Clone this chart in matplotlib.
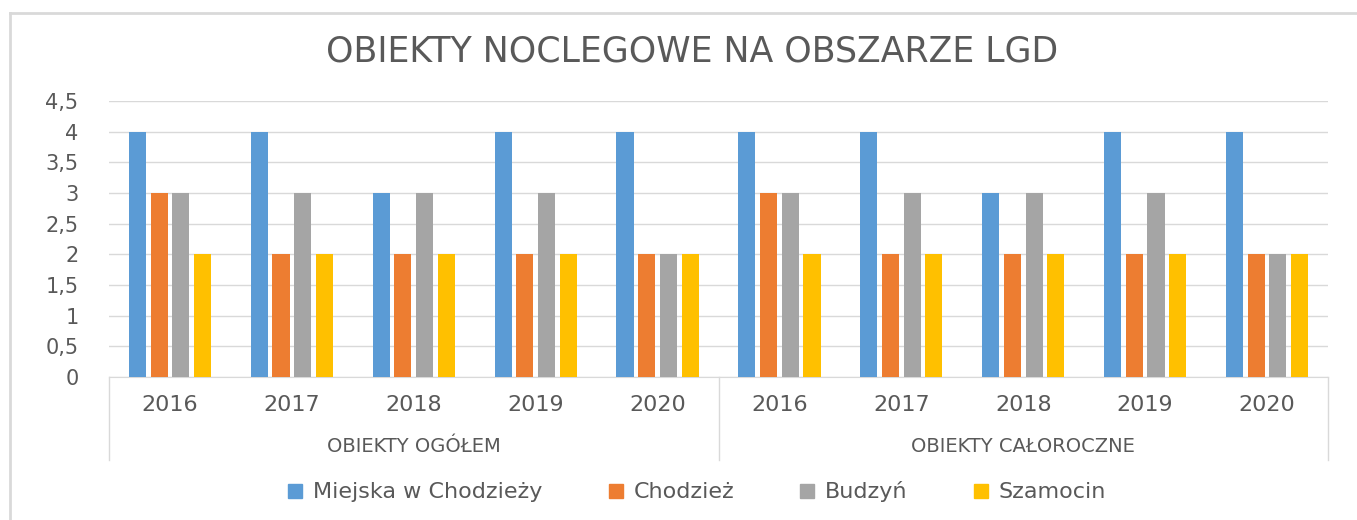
#!/usr/bin/env python3

"""
Obiekty noclegowe na obszarze LGD - grouped bar chart
"""

import matplotlib
matplotlib.use("Agg")
import matplotlib.pyplot as plt
from matplotlib.lines import Line2D
import numpy as np

# =======================
# Data
# =======================
years = ["2016", "2017", "2018", "2019", "2020"]
groups = ["OBIEKTY OGÓŁEM", "OBIEKTY CAŁOROCZNE"]
series = ["Miejska w Chodzieży", "Chodzież", "Budzyń", "Szamocin"]

miejska = [4, 4, 3, 4, 4, 4, 4, 3, 4, 4]
chodziez = [3, 2, 2, 2, 2, 3, 2, 2, 2, 2]
budzyn = [3, 3, 3, 3, 2, 3, 3, 3, 3, 2]
szamocin = [2, 2, 2, 2, 2, 2, 2, 2, 2, 2]

yticks = [0, 0.5, 1, 1.5, 2, 2.5, 3, 3.5, 4, 4.5]
ytick_labels = ["0", "0,5", "1", "1,5", "2", "2,5", "3", "3,5", "4", "4,5"]

# =======================
# Style
# =======================
colors = ["#5B9BD5", "#ED7D31", "#A5A5A5", "#FFC000"]
text_color = "#595959"
grid_color = "#D9D9D9"
plt.rcParams["font.family"] = ["DejaVu Sans"]

W, H = 1357, 520
fig = plt.figure(figsize=(W / 100, H / 100), dpi=100)

# outer chart frame (top and left edges only, rest is cut off)
fx, fy = 10 / W, 1 - 13 / H
fig.add_artist(Line2D([fx, 1.0], [fy, fy], transform=fig.transFigure,
                      color="#D9D9D9", linewidth=2))
fig.add_artist(Line2D([fx, fx], [0.0, fy], transform=fig.transFigure,
                      color="#D9D9D9", linewidth=2))

ax = fig.add_axes([109 / W, 1 - 377 / H, (1328 - 109) / W, (377 - 101) / H])

# =======================
# Bars
# =======================
x = np.arange(len(miejska))
step = 0.178
width = 0.14
for i, (vals, col) in enumerate(zip([miejska, chodziez, budzyn, szamocin], colors)):
    ax.bar(x + (i - 1.5) * step, vals, width=width, color=col,
           label=series[i], zorder=3)

ax.set_xlim(-0.5, len(miejska) - 0.5)
ax.set_ylim(0, 4.5)
ax.set_yticks(yticks)
ax.set_yticklabels(ytick_labels, fontsize=15, color=text_color)
ax.tick_params(axis="y", length=0, pad=22)
ax.set_xticks([])
ax.grid(axis="y", color=grid_color, linewidth=1, zorder=0)
for s in ["top", "right", "left"]:
    ax.spines[s].set_visible(False)
ax.spines["bottom"].set_color(grid_color)

# =======================
# Multi-level category axis
# =======================
trans = ax.get_xaxis_transform()
for i in x:
    ax.text(i, -0.102, years[i % 5], transform=trans, ha="center", va="center",
            fontsize=16, color=text_color)
for g, name in enumerate(groups):
    ax.text(g * 5 + 2, -0.25, name, transform=trans, ha="center", va="center",
            fontsize=14, color=text_color)
for xb in [-0.5, 4.5, 9.5]:
    ax.add_line(Line2D([xb, xb], [0, -0.30], transform=trans, color=grid_color,
                       linewidth=1, clip_on=False))

# =======================
# Title and legend
# =======================
fig.text(0.51, 1 - 52 / H, "OBIEKTY NOCLEGOWE NA OBSZARZE LGD",
         ha="center", va="center", fontsize=25, color=text_color)

handles = [Line2D([], [], marker="s", linestyle="", markersize=10,
                  markerfacecolor=c, markeredgecolor=c) for c in colors]
fig.legend(handles, series, loc="center", bbox_to_anchor=(0.513, 1 - 492 / H),
           ncol=4, frameon=False, fontsize=16, labelcolor=text_color,
           handlelength=0.8, handletextpad=0.4, columnspacing=2.9)

fig.savefig("out.png", dpi=100)
plt.close(fig)
